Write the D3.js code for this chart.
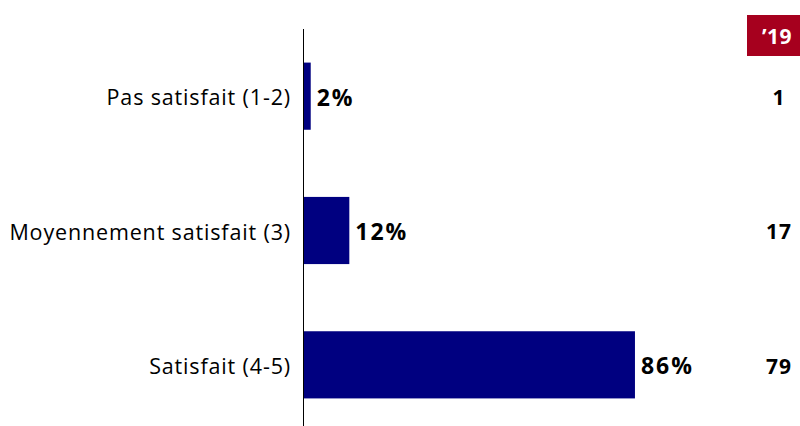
<!DOCTYPE html>
<html>
<head>
<meta charset="utf-8">
<script src="https://cdn.jsdelivr.net/npm/d3@7"></script>
<style>
  body { margin: 0; background: #fff; }
  svg { display: block; font-family: "Open Sans", Lato, sans-serif; }
</style>
</head>
<body>
<div id="chart"></div>
<script>
// Chart data
const categories = ['Pas satisfait (1-2)', 'Moyennement satisfait (3)', 'Satisfait (4-5)'];
const values = [2, 12, 86];
const prevYearLabel = '\u201919';
const prevValues = [1, 17, 79];

const width = 800;
const height = 426;

const svg = d3.select('#chart')
  .append('svg')
  .attr('width', width)
  .attr('height', height);

const x = d3.scaleLinear()
  .domain([0, 100])
  .range([303, 689]);

const y = d3.scaleBand()
  .domain(categories)
  .range([29, 432])
  .paddingInner(0.5)
  .paddingOuter(0.25);

// Bars
svg.selectAll('rect.bar')
  .data(values)
  .enter()
  .append('rect')
  .attr('class', 'bar')
  .attr('x', x(0))
  .attr('y', (d, i) => y(categories[i]))
  .attr('width', d => x(d) - x(0))
  .attr('height', y.bandwidth())
  .attr('fill', '#000080');

// Category axis (line only, no ticks)
const axis = svg.append('g')
  .attr('transform', `translate(${x(0)},0)`)
  .call(d3.axisLeft(y).tickSize(0).tickPadding(12));

axis.select('.domain')
  .attr('d', `M0.5,29V${height}`)
  .attr('stroke', '#000')
  .attr('stroke-width', 1);

axis.selectAll('text')
  .attr('font-family', '"Open Sans", Lato, sans-serif')
  .attr('font-size', 21.5)
  .attr('letter-spacing', 0.85)
  .attr('dy', '0.42em')
  .attr('fill', '#000');

// Value labels
svg.selectAll('text.value')
  .data(values)
  .enter()
  .append('text')
  .attr('class', 'value')
  .attr('x', d => x(d) + 6)
  .attr('y', (d, i) => y(categories[i]) + y.bandwidth() / 2)
  .attr('dy', '0.42em')
  .attr('font-size', 23)
  .attr('letter-spacing', 2)
  .attr('font-weight', 'bold')
  .text(d => d + '%');

// Previous year column
svg.append('rect')
  .attr('x', 747)
  .attr('y', 15)
  .attr('width', 53)
  .attr('height', 41)
  .attr('fill', '#A6001E');

svg.append('text')
  .attr('x', 777)
  .attr('y', 36)
  .attr('dy', '0.38em')
  .attr('text-anchor', 'middle')
  .attr('font-size', 21)
  .attr('letter-spacing', 0.5)
  .attr('font-weight', 'bold')
  .attr('fill', '#fff')
  .text(prevYearLabel);

svg.selectAll('text.prev')
  .data(prevValues)
  .enter()
  .append('text')
  .attr('class', 'prev')
  .attr('x', 779)
  .attr('y', (d, i) => y(categories[i]) + y.bandwidth() / 2)
  .attr('dy', '0.42em')
  .attr('text-anchor', 'middle')
  .attr('font-size', 21)
  .attr('letter-spacing', 1)
  .attr('font-weight', 'bold')
  .text(d => d);
</script>
</body>
</html>
